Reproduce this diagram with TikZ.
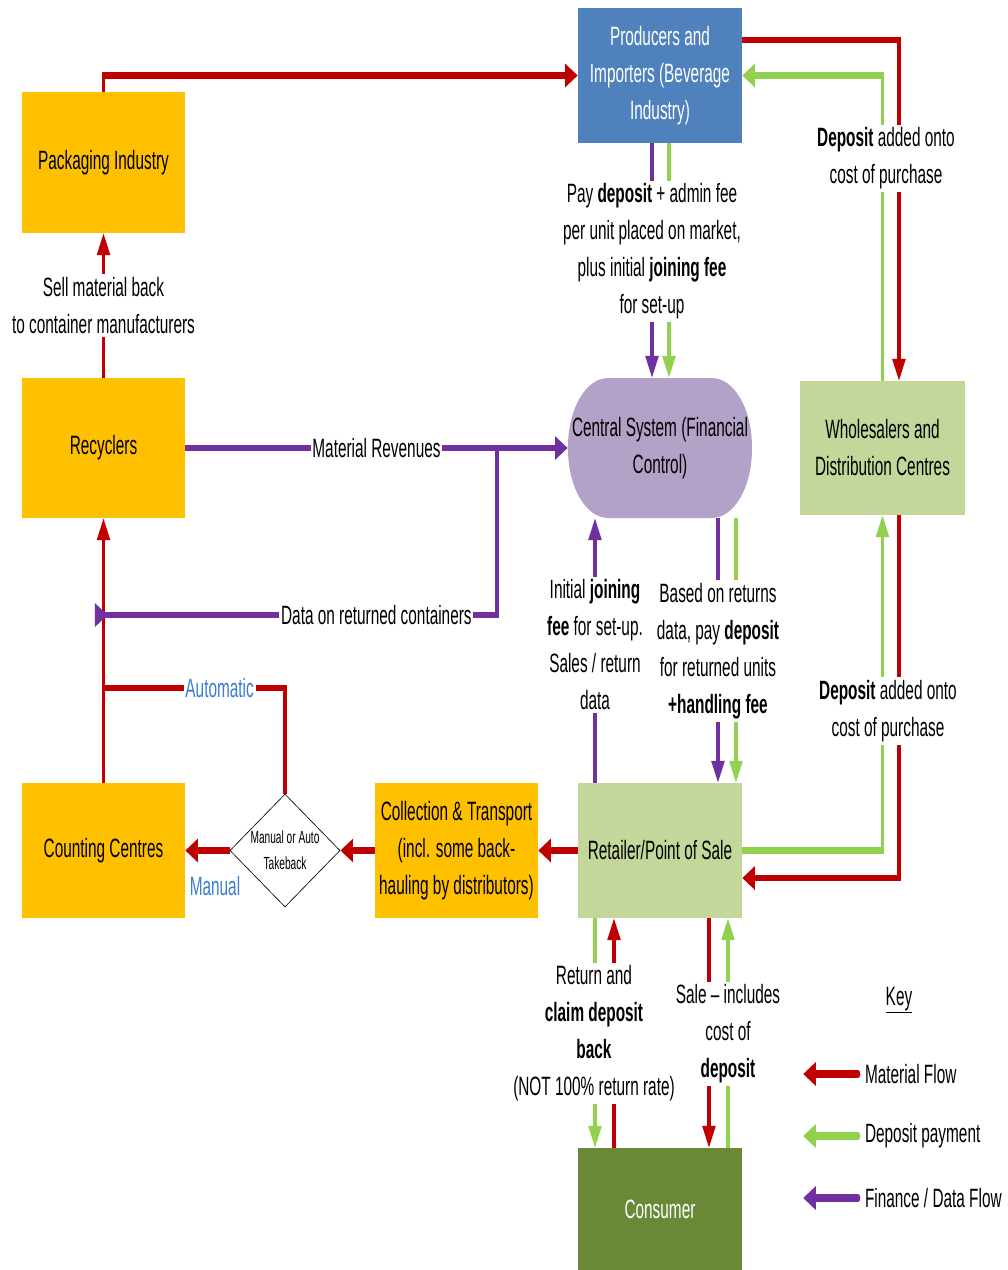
\documentclass[tikz,border=0pt]{standalone}
\usepackage{fontspec}
\setmainfont{Liberation Sans}
\usetikzlibrary{arrows.meta,shapes.geometric}

\definecolor{matred}{RGB}{192,0,0}
\definecolor{depgreen}{RGB}{146,208,80}
\definecolor{finpurple}{RGB}{112,48,160}
\definecolor{prodblue}{RGB}{79,129,189}
\definecolor{indorange}{RGB}{255,192,0}
\definecolor{tradegreen}{RGB}{196,215,155}
\definecolor{centrallilac}{RGB}{179,162,199}
\definecolor{consgreen}{RGB}{106,137,54}
\definecolor{takeblue}{RGB}{58,125,210}

\tikzset{
  blk/.style 2 args={rectangle, align=center, inner sep=4pt,
    minimum width=#1*1.7241pt, minimum height=#2pt},
  lbl/.style={fill=white, align=center, inner sep=3pt},
  mat/.style={draw=matred, line width=6.5pt},
  dep/.style={draw=depgreen, line width=6.5pt},
  fin/.style={draw=finpurple, line width=6.5pt},
  arr/.style={-{Triangle[length=22pt,width=22pt]}},
  keyline/.style={line width=8pt, line cap=round},
}

\begin{document}
\begin{tikzpicture}[x=1pt,y=-1pt,font=\fontsize{26.5}{37}\selectfont]
  \useasboundingbox (0,0) rectangle (1008,1270);

  \begin{scope}[transform canvas={xscale=0.58}, x=1.7241pt, y=-1pt]

    \begin{scope}[every node/.style={align=center}]
      \node[blk={164}{135}, fill=prodblue, text=white] (prod) at (660,75.5) {Producers and\\Importers (Beverage\\Industry)};
      \node[blk={163}{141}, fill=indorange] (pack)  at (103.5,162.5) {Packaging Industry};
      \node[blk={163}{140}, fill=indorange] (recy)  at (103.5,448)   {Recyclers};
      \node[blk={163}{135}, fill=indorange] (count) at (103.5,850.5) {Counting Centres};
      \node[blk={163}{135}, fill=indorange] (coll)  at (456.5,850.5) {Collection \& Transport\\(incl. some back-\\hauling by distributors)};
      \node[blk={164}{135}, fill=tradegreen] (retail) at (660,850.5) {Retailer/Point of Sale};
      \node[blk={165}{134}, fill=tradegreen] (whole)  at (882.5,448) {Wholesalers and\\Distribution Centres};
      \node[blk={184}{140}, fill=centrallilac, rounded corners=69pt] (central) at (660,448) {Central System (Financial\\Control)};
      \node[blk={164}{122}, fill=consgreen, text=white] (cons) at (660,1209) {Consumer};
      \node[diamond, draw, fill=white, line width=0.8pt, aspect=1.68, inner sep=0pt,
            minimum width=110*1.7241pt, minimum height=113pt,
            font=\fontsize{17.5}{26}\selectfont] (diam) at (285,850.5) {Manual or Auto\\Takeback};
    \end{scope}

    \coordinate (tap)  at (95,615);
    \coordinate (join) at (497,448);
    \coordinate (auto) at (103.5,688);

    % material flow
    \draw[mat,arr] (pack.north) |- (prod.west);
    \draw[mat,arr] (recy.north) -- node[lbl] {Sell material back\\to container manufacturers} (pack.south);
    \draw[mat,arr] (prod.east |- 0,40) -| (899,0 |- whole.north);
    \draw[mat,arr] (899,0 |- whole.south) |- (retail.east |- 0,878);
    \draw[mat,arr] (count.north) -- (recy.south);
    \draw[mat] (diam.north) |- node[lbl,pos=0.68,text=takeblue] {Automatic} (auto);
    \draw[mat,arr] (retail.west) -- (coll.east);
    \draw[mat,arr] (coll.west) -- (diam.east);
    \draw[mat,arr] (diam.west) -- (count.east);
    \draw[mat,arr] (614,0 |- cons.north) -- (614,0 |- retail.south);
    \draw[mat,arr] (709,0 |- retail.south) -- (709,0 |- cons.north);

    % deposit payment
    \draw[dep,arr] (whole.north) |- (prod.east);
    \draw[dep,arr] (669,0 |- prod.south) -- (669,0 |- central.north);
    \draw[dep,arr] (736,0 |- central.south) -- (736,0 |- retail.north);
    \draw[dep,arr] (retail.east) -| (whole.south);
    \draw[dep,arr] (595,0 |- retail.south) -- (595,0 |- cons.north);
    \draw[dep,arr] (728,0 |- cons.north) -- (728,0 |- retail.south);

    % finance / data
    \draw[fin,arr] (652,0 |- prod.south) -- (652,0 |- central.north);
    \draw[fin,arr] (recy.east) -- node[lbl] {Material Revenues} (central.west);
    \draw[fin,{Triangle[length=22pt,width=22pt,reversed]}-] (tap) -| node[lbl,pos=0.35] {Data on returned containers} (join);
    \draw[fin,arr] (595,0 |- retail.north) -- (595,0 |- central.south);
    \draw[fin,arr] (718,0 |- central.south) -- (718,0 |- retail.north);

    \begin{scope}[every node/.style={lbl}]
      \node (payfee)  at (652,251.5) {Pay \textbf{deposit} + admin fee\\per unit placed on market,\\plus initial \textbf{joining fee}\\for set-up};
      \node (topdep)  at (886,158.5) {\textbf{Deposit} added onto\\cost of purchase};
      \node (lowdep)  at (888,711)   {\textbf{Deposit} added onto\\cost of purchase};
      \node (joinfee) at (595,645)   {Initial \textbf{joining}\\\textbf{fee} for set-up.\\Sales / return\\data};
      \node (retfee)  at (718,651)   {Based on returns\\data, pay \textbf{deposit}\\for returned units\\\textbf{+handling fee}};
      \node (claim)   at (594,1033.5) {Return and\\\textbf{claim deposit}\\\textbf{back}\\(NOT 100\% return rate)};
      \node (sale)    at (728,1034)  {Sale – includes\\cost of\\\textbf{deposit}};
    \end{scope}

    \node[text=takeblue] (manual) at (215,886) {Manual};

    % key
    \node (key) at (899,1000) {\underline{Key}};
    \node[anchor=west] (kmat) at (863,1074) {Material Flow};
    \node[anchor=west] (kdep) at (863,1136) {Deposit payment};
    \node[anchor=west] (kfin) at (863,1198) {Finance / Data Flow};
    \draw[mat,arr,keyline] (kmat.west) ++(-5,0) -- ++(-55,0);
    \draw[dep,arr,keyline] (kdep.west) ++(-5,0) -- ++(-55,0);
    \draw[fin,arr,keyline] (kfin.west) ++(-5,0) -- ++(-55,0);

  \end{scope}
\end{tikzpicture}
\end{document}
